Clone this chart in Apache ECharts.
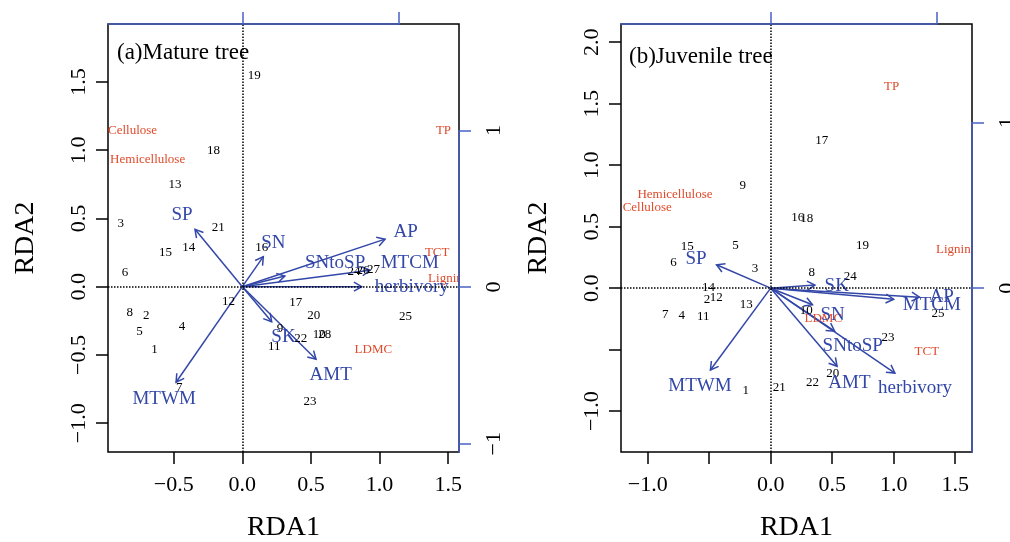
<!DOCTYPE html>
<html>
<head>
<meta charset="utf-8">
<script src="https://cdn.jsdelivr.net/npm/echarts@6/dist/echarts.min.js"></script>
<style>
html, body { margin: 0; padding: 0; background: #fff; }
#chart { width: 1010px; height: 542px; }
</style>
</head>
<body>
<div id="chart"></div>
<script>
// (a) Mature tree
var matureSites = ['1','2','3','4','5','6','7','8','9','10','11','12','13','14','15','16','17','18','19','20','21','22','23','24','25','26','27','28'];
var matureSiteX = [-0.64,-0.70,-0.886,-0.44,-0.75,-0.855,-0.46,-0.82,0.275,0.56,0.233,-0.10,-0.49,-0.39,-0.56,0.141,0.39,-0.21,0.087,0.52,-0.175,0.425,0.493,0.814,1.19,0.88,0.955,0.60];
var matureSiteY = [-0.46,-0.21,0.465,-0.29,-0.33,0.105,-0.74,-0.19,-0.31,-0.35,-0.44,-0.11,0.75,0.29,0.25,0.286,-0.117,1.00,1.547,-0.21,0.43,-0.38,-0.84,0.11,-0.22,0.12,0.122,-0.35];
var matureTraits = ['Cellulose','Hemicellulose','TP','TCT','Lignin','LDMC'];
var matureTraitX = [-0.80,-0.69,1.466,1.42,1.48,0.955];
var matureTraitY = [1.144,0.934,1.14,0.25,0.06,-0.46];
var matureEnv = ['SP','SN','AP','SNtoSP','MTCM','herbivory','SK','AMT','MTWM'];
var matureEnvX = [-0.345,0.153,1.04,0.31,0.93,0.87,0.214,0.537,-0.483];
var matureEnvY = [0.42,0.22,0.348,0.078,0.12,0,-0.257,-0.532,-0.70];
var matureEnvLabelX = [-0.44,0.226,1.19,0.676,1.22,1.235,0.30,0.644,-0.57];
var matureEnvLabelY = [0.526,0.32,0.40,0.17,0.176,0,-0.37,-0.65,-0.82];

// (b) Juvenile tree
var juvenileSites = ['1','2','3','4','5','6','7','8','9','10','11','12','13','14','15','16','17','18','19','20','21','22','23','24','25'];
var juvenileSiteX = [-0.203,-0.517,-0.128,-0.724,-0.285,-0.79,-0.857,0.333,-0.228,0.29,-0.548,-0.443,-0.198,-0.505,-0.678,0.22,0.415,0.293,0.747,0.504,0.07,0.34,0.954,0.648,1.36];
var juvenileSiteY = [-0.836,-0.092,0.157,-0.225,0.35,0.212,-0.212,0.125,0.833,-0.185,-0.233,-0.078,-0.133,0.004,0.335,0.577,1.201,0.563,0.344,-0.695,-0.81,-0.765,-0.405,0.092,-0.203];
var juvenileTraits = ['TP','Hemicellulose','Cellulose','Lignin','LDMC','TCT'];
var juvenileTraitX = [0.984,-0.778,-1.004,1.485,0.428,1.27];
var juvenileTraitY = [1.643,0.762,0.653,0.31,-0.245,-0.516];
var juvenileEnv = ['SP','SK','AP','MTCM','SN','SNtoSP','AMT','herbivory','MTWM'];
var juvenileEnvX = [-0.44,0.36,1.21,1.00,0.34,0.52,0.54,1.01,-0.49];
var juvenileEnvY = [0.19,0.025,-0.073,-0.09,-0.135,-0.35,-0.635,-0.69,-0.665];
var juvenileEnvLabelX = [-0.607,0.537,1.39,1.31,0.504,0.667,0.64,1.174,-0.575];
var juvenileEnvLabelY = [0.234,0.017,-0.07,-0.137,-0.218,-0.47,-0.768,-0.814,-0.795];

// tick values
var matureXTicks = [-0.5, 0, 0.5, 1, 1.5];
var matureYTicks = [-1, -0.5, 0, 0.5, 1, 1.5];
var juvenileXTicks = [-1, -0.5, 0, 0.5, 1, 1.5];
var juvenileXLabels = [-1, 0, 0.5, 1, 1.5];
var juvenileYTicks = [-1, -0.5, 0, 0.5, 1, 1.5, 2];
var juvenileYLabels = [-1, 0, 0.5, 1, 1.5, 2];

var serif = 'Liberation Serif';
var blue = '#3347a8';
var axisBlue = '#4a62c6';
var red = '#e04a2b';

function fmt1(v) { return v.toFixed(1).replace('-', '\u2212'); }
function fmt0(v) { return String(v).replace('-', '\u2212'); }

function pairs(xs, ys) {
    var out = [];
    for (var i = 0; i < xs.length; i++) out.push([xs[i], ys[i]]);
    return out;
}

function textSeries(grid, names, xs, ys, color, size, clip) {
    return {
        type: 'custom',
        xAxisIndex: grid, yAxisIndex: grid,
        clip: clip,
        silent: true,
        data: pairs(xs, ys),
        renderItem: function (params, api) {
            var p = api.coord([api.value(0), api.value(1)]);
            return {
                type: 'text', x: p[0], y: p[1],
                style: {
                    text: names[params.dataIndex], fill: color,
                    font: size + 'px "' + serif + '"',
                    align: 'center', verticalAlign: 'middle'
                }
            };
        }
    };
}

function arrowSeries(grid, xs, ys) {
    return {
        type: 'custom',
        xAxisIndex: grid, yAxisIndex: grid,
        silent: true,
        data: pairs(xs, ys),
        renderItem: function (params, api) {
            var o = api.coord([0, 0]);
            var p = api.coord([api.value(0), api.value(1)]);
            var ang = Math.atan2(p[1] - o[1], p[0] - o[0]);
            var L = 9, a = Math.PI / 6;
            return {
                type: 'group',
                children: [
                    {type: 'line', shape: {x1: o[0], y1: o[1], x2: p[0], y2: p[1]},
                     style: {stroke: blue, lineWidth: 1.5}},
                    {type: 'polyline', shape: {points: [
                        [p[0] - L * Math.cos(ang - a), p[1] - L * Math.sin(ang - a)],
                        [p[0], p[1]],
                        [p[0] - L * Math.cos(ang + a), p[1] - L * Math.sin(ang + a)]
                    ]}, style: {stroke: blue, fill: null, lineWidth: 1.5}}
                ]
            };
        }
    };
}

function zeroLines(grid) {
    return {
        type: 'custom', xAxisIndex: grid, yAxisIndex: grid, data: [],
        renderItem: function () { return null; },
        markLine: {
            silent: true, symbol: 'none', animation: false,
            label: {show: false},
            lineStyle: {type: 'dotted', color: '#000', width: 1.5},
            data: [{xAxis: 0}, {yAxis: 0}]
        }
    };
}

function mainX(grid, min, max, ticks, labels) {
    return {
        gridIndex: grid, type: 'value', position: 'bottom', min: min, max: max,
        axisLine: {show: false, onZero: false}, splitLine: {show: false},
        axisTick: {show: true, customValues: ticks, length: 12, lineStyle: {color: '#000', width: 1.5}},
        axisLabel: {customValues: labels, formatter: fmt1, color: '#000', fontFamily: serif, fontSize: 22, margin: 22},
        name: 'RDA1', nameLocation: 'middle', nameGap: 62,
        nameTextStyle: {fontFamily: serif, fontSize: 28, color: '#000'}
    };
}
function mainY(grid, min, max, ticks, labels) {
    return {
        gridIndex: grid, type: 'value', position: 'left', min: min, max: max,
        axisLine: {show: false, onZero: false}, splitLine: {show: false},
        axisTick: {show: true, customValues: ticks, length: 12, lineStyle: {color: '#000', width: 1.5}},
        axisLabel: {customValues: labels, formatter: fmt1, rotate: 90, color: '#000', fontFamily: serif, fontSize: 22, margin: 18},
        name: 'RDA2', nameLocation: 'middle', nameRotate: 90, nameGap: 68,
        nameTextStyle: {fontFamily: serif, fontSize: 28, color: '#000'}
    };
}
function topX(grid, min) {
    return {
        gridIndex: grid, type: 'value', position: 'top', min: min, max: 1, z: 5,
        axisLine: {show: true, onZero: false, lineStyle: {color: axisBlue, width: 1.5}},
        axisTick: {show: true, customValues: [0, 1], length: 12, lineStyle: {color: axisBlue, width: 1.5}},
        axisLabel: {show: false}, splitLine: {show: false}
    };
}
function rightY(grid, min, ticks) {
    return {
        gridIndex: grid, type: 'value', position: 'right', min: min, max: 1, z: 5,
        axisLine: {show: true, onZero: false, lineStyle: {color: axisBlue, width: 1.5}},
        axisTick: {show: true, customValues: ticks, length: 12, lineStyle: {color: axisBlue, width: 1.5}},
        axisLabel: {customValues: ticks, formatter: fmt0, rotate: 90, color: '#000', fontFamily: serif, fontSize: 22, margin: 24},
        splitLine: {show: false}
    };
}
function hidden(grid) {
    return {gridIndex: grid, type: 'value', show: false, min: 0, max: 1, axisLine: {onZero: false}};
}

var chart = echarts.init(document.getElementById('chart'), null, {renderer: 'canvas'});
chart.setOption({
    animation: false,
    backgroundColor: '#fff',
    grid: [
        {left: 108, top: 24, width: 351, height: 428, show: true, borderColor: '#000', borderWidth: 1.5, outerBoundsMode: 'none'},
        {left: 108, top: 24, width: 291, height: 100, outerBoundsMode: 'none'},
        {left: 359, top: 130.5, width: 100, height: 321.5, outerBoundsMode: 'none'},
        {left: 621, top: 24, width: 351, height: 428, show: true, borderColor: '#000', borderWidth: 1.5, outerBoundsMode: 'none'},
        {left: 621, top: 24, width: 315.7, height: 100, outerBoundsMode: 'none'},
        {left: 872, top: 122.6, width: 100, height: 329.4, outerBoundsMode: 'none'}
    ],
    xAxis: [
        mainX(0, -0.979, 1.579, matureXTicks, matureXTicks),
        topX(1, -0.857),
        hidden(2),
        mainX(3, -1.217, 1.637, juvenileXTicks, juvenileXLabels),
        topX(4, -0.902),
        hidden(5)
    ],
    yAxis: [
        mainY(0, -1.211, 1.924, matureYTicks, matureYTicks),
        hidden(1),
        rightY(2, -1.053, [-1, 0, 1]),
        mainY(3, -1.332, 2.148, juvenileYTicks, juvenileYLabels),
        hidden(4),
        rightY(5, -0.99, [0, 1])
    ],
    title: [
        {text: '(a)Mature tree', left: 117, top: 41, padding: 0,
         textStyle: {fontFamily: serif, fontSize: 23, fontWeight: 'normal', color: '#000'}},
        {text: '(b)Juvenile tree', left: 629, top: 45, padding: 0,
         textStyle: {fontFamily: serif, fontSize: 23, fontWeight: 'normal', color: '#000'}}
    ],
    series: [
        zeroLines(0),
        arrowSeries(0, matureEnvX, matureEnvY),
        textSeries(0, matureSites, matureSiteX, matureSiteY, '#000', 13, true),
        textSeries(0, matureTraits, matureTraitX, matureTraitY, red, 13, true),
        textSeries(0, matureEnv, matureEnvLabelX, matureEnvLabelY, blue, 19, false),
        zeroLines(3),
        arrowSeries(3, juvenileEnvX, juvenileEnvY),
        textSeries(3, juvenileSites, juvenileSiteX, juvenileSiteY, '#000', 13, true),
        textSeries(3, juvenileTraits, juvenileTraitX, juvenileTraitY, red, 13, true),
        textSeries(3, juvenileEnv, juvenileEnvLabelX, juvenileEnvLabelY, blue, 19, false)
    ]
});
</script>
</body>
</html>
